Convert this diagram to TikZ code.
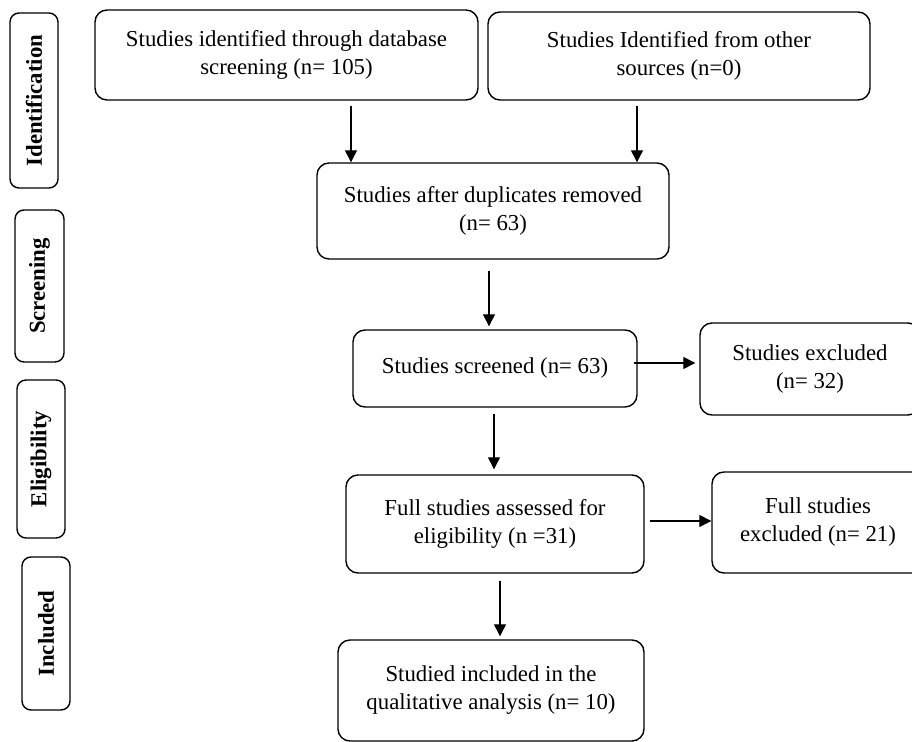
\documentclass[tikz,border=0pt]{standalone}
\usepackage{fontspec}
\setmainfont{Liberation Serif}
\usetikzlibrary{arrows.meta,positioning}

\begin{document}
\begin{tikzpicture}[x=0.5pt,y=-0.5pt,
    sz/.style 2 args={minimum width=#1*0.5pt,minimum height=#2*0.5pt},
    box/.style={draw,line width=0.7pt,rounded corners=6pt,align=center,inner sep=0pt,
      font=\fontsize{11.4}{14}\selectfont},
    stage/.style={draw,line width=0.7pt,rounded corners=4.5pt,inner sep=0pt,
      font=\fontsize{11.4}{14}\selectfont\bfseries},
    arr/.style={-{Triangle[width=6pt,length=6pt]},line width=0.65pt}]
  \useasboundingbox (0,0) rectangle (912,742);

  % stage labels on the left
  \node[stage,sz={175}{48},rotate=90] (ident) at (34,100.5) {Identification};
  \node[stage,sz={152}{49},rotate=90] (screen) at (39.5,286) {Screening};
  \node[stage,sz={158}{48},rotate=90] (elig) at (41,459) {Eligibility};
  \node[stage,sz={153}{48},rotate=90] (incl) at (46,633.5) {Included};

  % flow boxes
  \node[box,sz={383}{90}] (db) at (286.5,55) {Studies identified through database\\screening (n= 105)};
  \node[box,sz={382}{88}] (other) at (679,56) {Studies Identified from other\\sources (n=0)};
  \node[box,sz={352}{96}] (dup) at (493,211) {Studies after duplicates removed\\(n= 63)};
  \node[box,sz={284}{77}] (scr) at (495,368.5) {Studies screened (n= 63)};
  \node[box,sz={220}{92}] (excl) at (810,369) {Studies excluded\\(n= 32)};
  \node[box,sz={298}{98}] (full) at (495,524) {Full studies assessed for\\eligibility (n =31)};
  \node[box,sz={212}{101}] (fexcl) at (818,522.5) {Full studies\\excluded (n= 21)};
  \node[box,sz={306}{101}] (incq) at (491,690.5) {Studied included in the\\qualitative analysis (n= 10)};

  % arrow start points
  \path (db.south) ++(64.5,0) coordinate (dbx)
        (other.south) ++(-42,0) coordinate (otx)
        (dup.south) ++(-4,0) coordinate (dupx)
        (scr.south) ++(-1,0) coordinate (scrx)
        (full.south) ++(5,0) coordinate (fullx)
        (scr.east) ++(0,-5.5) coordinate (scry)
        (full.east) ++(0,-3) coordinate (fully);

  \draw[arr,shorten <=2.5pt] (dbx) -- (dbx |- dup.north);
  \draw[arr,shorten <=2.5pt] (otx) -- (otx |- dup.north);
  \draw[arr,shorten <=5.5pt,shorten >=1.5pt] (dupx) -- (dupx |- scr.north);
  \draw[arr,shorten <=3pt,shorten >=2.5pt] (scrx) -- (scrx |- full.north);
  \draw[arr,shorten <=3.5pt,shorten >=1.5pt] (fullx) -- (fullx |- incq.north);
  \draw[arr,shorten <=-2pt,shorten >=2pt] (scry) -- (scry -| excl.west);
  \draw[arr,shorten <=2.5pt] (fully) -- (fully -| fexcl.west);
\end{tikzpicture}
\end{document}
